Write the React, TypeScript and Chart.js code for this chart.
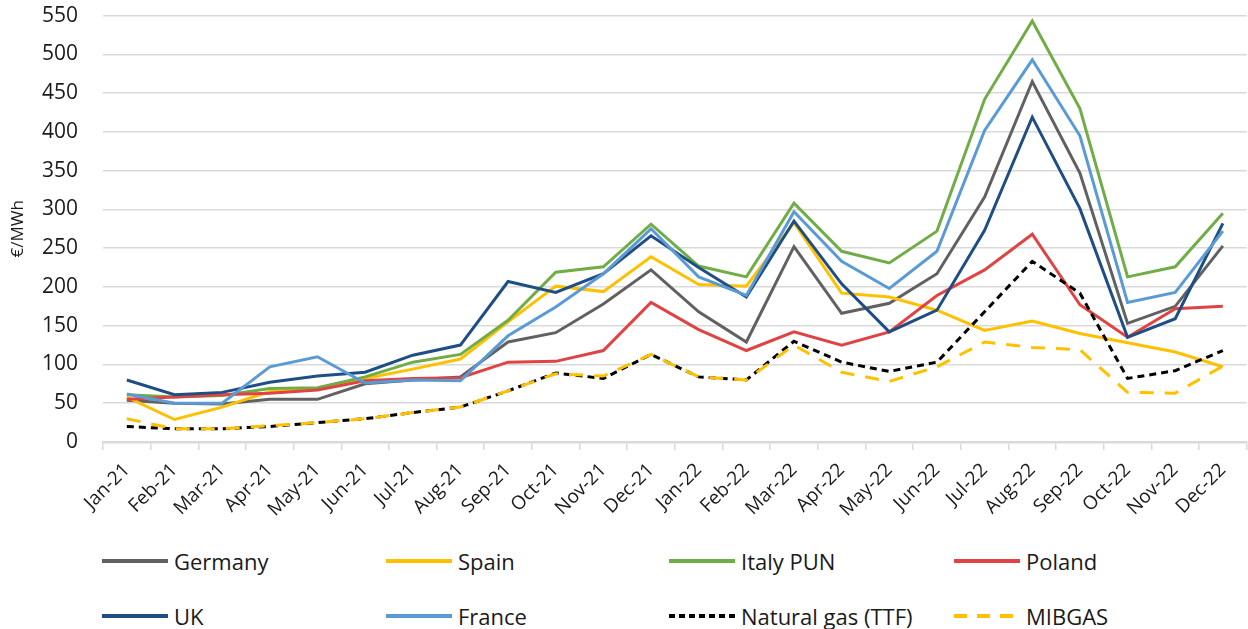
import React, { useEffect, useRef } from 'react';
import { Chart, registerables } from 'chart.js';

Chart.register(...registerables);

const months = [
  'Jan-21', 'Feb-21', 'Mar-21', 'Apr-21', 'May-21', 'Jun-21', 'Jul-21', 'Aug-21', 'Sep-21', 'Oct-21', 'Nov-21', 'Dec-21',
  'Jan-22', 'Feb-22', 'Mar-22', 'Apr-22', 'May-22', 'Jun-22', 'Jul-22', 'Aug-22', 'Sep-22', 'Oct-22', 'Nov-22', 'Dec-22',
];

const germany = [54, 50, 49, 55, 55, 75, 80, 84, 129, 141, 178, 222, 168, 129, 252, 166, 179, 217, 316, 465, 347, 153, 175, 253];
const spain = [58, 29, 45, 65, 68, 82, 94, 107, 155, 201, 194, 239, 203, 201, 283, 192, 187, 170, 144, 156, 140, 128, 116, 97];
const italyPun = [61, 58, 60, 69, 70, 84, 103, 113, 157, 219, 226, 281, 227, 213, 308, 246, 231, 272, 442, 543, 430, 213, 226, 295];
const poland = [55, 58, 61, 63, 67, 79, 82, 83, 103, 104, 118, 180, 145, 118, 142, 125, 142, 189, 222, 268, 177, 135, 172, 175];
const uk = [80, 61, 64, 77, 85, 90, 112, 125, 207, 193, 217, 266, 225, 187, 285, 204, 142, 170, 273, 419, 301, 135, 159, 282];
const france = [62, 50, 50, 97, 110, 76, 80, 79, 137, 174, 217, 275, 213, 189, 297, 233, 198, 246, 402, 493, 395, 180, 193, 272];
const naturalGasTTF = [20, 17, 17, 20, 25, 30, 38, 45, 66, 89, 82, 113, 84, 80, 130, 103, 91, 103, 168, 233, 192, 82, 92, 118];
const mibgas = [30, 17, 17, 21, 25, 30, 38, 45, 66, 88, 85, 113, 84, 80, 125, 90, 78, 97, 129, 122, 119, 64, 63, 98];

const yTicks = [0, 50, 100, 150, 200, 250, 300, 350, 400, 450, 500, 550];

const FONT = '"Open Sans", "DejaVu Sans", sans-serif';
const W = 1248;
const SHIFT = 22; // canvas is raised so the plot area starts at y=15 on the page
const H = 540 + SHIFT;

type Series = { label: string; data: number[]; color: string; dash: number[] };

const series: Series[] = [
  { label: 'Germany', data: germany, color: '#616161', dash: [] },
  { label: 'Spain', data: spain, color: '#FFC000', dash: [] },
  { label: 'Italy PUN', data: italyPun, color: '#70AD47', dash: [] },
  { label: 'Poland', data: poland, color: '#E04343', dash: [] },
  { label: 'UK', data: uk, color: '#1F4E84', dash: [] },
  { label: 'France', data: france, color: '#5B9BD5', dash: [] },
  { label: 'Natural gas (TTF)', data: naturalGasTTF, color: '#000000', dash: [7, 5] },
  { label: 'MIBGAS', data: mibgas, color: '#FFC000', dash: [14, 11] },
];

const legendCols = [102, 386, 669, 954];
const legendRows = [561, 616];

function LegendItem({ s, idx }: { s: Series; idx: number }) {
  const col = idx % 4;
  const row = Math.floor(idx / 4);
  const x = legendCols[col];
  const y = legendRows[row];
  const sampleW = s.label === 'MIBGAS' ? 60 : 66;
  return (
    <div style={{ position: 'absolute', left: x, top: y - 16, height: 32, display: 'flex', alignItems: 'center', whiteSpace: 'nowrap' }}>
      <svg width={66} height={8} style={{ display: 'block' }}>
        <line x1={0} y1={4} x2={sampleW} y2={4} stroke={s.color} strokeWidth={4}
          strokeDasharray={s.dash.length ? (s.label === 'MIBGAS' ? '13 10' : '6 4') : undefined} />
      </svg>
      <span style={{ marginLeft: 6, fontFamily: FONT, fontSize: 22, color: '#1a1a1a', lineHeight: '32px' }}>{s.label}</span>
    </div>
  );
}

export default function App() {
  const ref = useRef<HTMLCanvasElement>(null);

  useEffect(() => {
    const canvas = ref.current;
    if (!canvas) return;
    const n = series.length;
    const chart = new Chart(canvas, {
      type: 'line',
      data: {
        labels: months,
        datasets: series.map((s, i) => ({
          label: s.label,
          data: s.data,
          borderColor: s.color,
          backgroundColor: s.color,
          borderWidth: 3,
          borderDash: s.dash,
          pointRadius: 0,
          pointHoverRadius: 0,
          tension: 0,
          fill: false,
          order: n - i,
          borderJoinStyle: 'miter' as const,
        })),
      },
      options: {
        responsive: false,
        animation: false,
        layout: { padding: { top: 15, right: 0, bottom: 0, left: 0 } },
        plugins: { legend: { display: false }, tooltip: { enabled: false } },
        scales: {
          x: {
            offset: true,
            grid: { offset: true, drawOnChartArea: false, drawTicks: true, tickLength: 8, color: '#d9d9d9', lineWidth: 1.5 },
            border: { color: '#d9d9d9', width: 2.5 },
            ticks: {
              minRotation: 45,
              maxRotation: 45,
              autoSkip: false,
              font: { family: FONT, size: 19 },
              color: '#1a1a1a',
              padding: 9,
            },
            afterFit: (s: any) => { s.height = H - (442 + SHIFT); },
          },
          y: {
            min: 0,
            max: 550,
            afterBuildTicks: (s: any) => { s.ticks = yTicks.map((v) => ({ value: v })); },
            ticks: { font: { family: FONT, size: 21 }, color: '#1a1a1a', padding: 25 },
            grid: { color: '#d9d9d9', lineWidth: 1.5, drawTicks: false },
            border: { display: false },
            title: { display: true, text: '€/MWh', font: { family: FONT, size: 17 }, color: '#1a1a1a', padding: { top: 8, bottom: 0 } },
            afterFit: (s: any) => { s.width = 103; },
          },
        },
      },
    });
    return () => chart.destroy();
  }, []);

  return (
    <div style={{ position: 'absolute', left: 0, top: 0, width: W, height: 629, background: '#ffffff', overflow: 'hidden' }}>
      <canvas ref={ref} width={W} height={H} style={{ position: 'absolute', left: 0, top: -SHIFT, width: W, height: H }} />
      {series.map((s, i) => <LegendItem key={s.label} s={s} idx={i} />)}
    </div>
  );
}
